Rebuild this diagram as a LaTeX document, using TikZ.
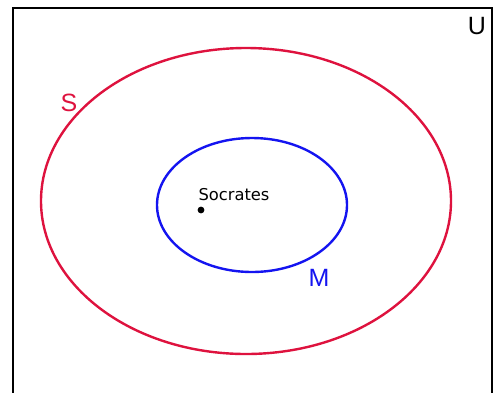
\documentclass[tikz,border=0pt]{standalone}
\usepackage{fontspec}
\setmainfont{Liberation Sans}
\newfontfamily\dejavu{DejaVu Sans}
\definecolor{sred}{RGB}{222,18,62}
\definecolor{mblue}{RGB}{20,20,240}
\begin{document}
\begin{tikzpicture}[x=1pt,y=-1pt,
  frame/.style={line width=2pt,black},
  setS/.style={line width=2.4pt,sred},
  setM/.style={line width=2.4pt,mblue},
  biglabel/.style={font=\fontsize{25}{25}\selectfont,inner sep=0pt}]
\useasboundingbox (0,0) rectangle (495,392);
\coordinate (bl) at (13,393);
\coordinate (tl) at (13,8);
\coordinate (tr) at (492,8);
\coordinate (br) at (492,393);
\draw[frame] (bl) -- (tl) -- (tr) -- (br);
\node[biglabel,black] (U) at (477,26) {U};
\draw[setS] (246,201) ellipse [x radius=205, y radius=153];
\node[biglabel,sred] (S) at (69,103) {S};
\draw[setM] (252,205) ellipse [x radius=95, y radius=67];
\node[biglabel,mblue] (M) at (319,278) {M};
\fill (201,210) circle [radius=3.4];
\node[font=\dejavu\fontsize{16.3}{16}\selectfont,inner sep=0pt] (soc) at (234,195) {Socrates};
\end{tikzpicture}
\end{document}
